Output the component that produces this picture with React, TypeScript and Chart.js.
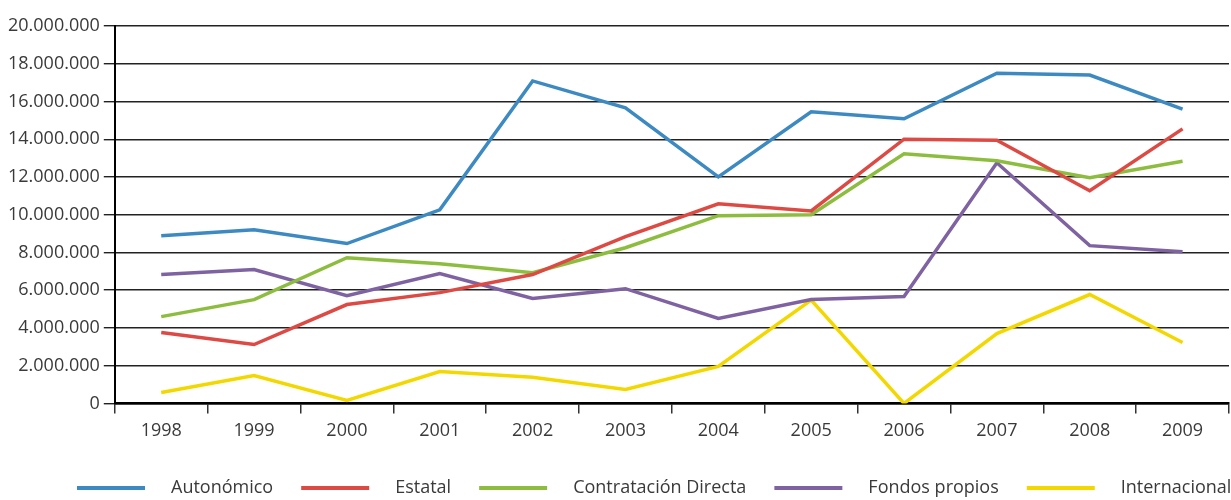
import React, { useEffect, useRef } from 'react';
import { Chart, registerables } from 'chart.js';

Chart.register(...registerables);

const years = ['1998', '1999', '2000', '2001', '2002', '2003', '2004', '2005', '2006', '2007', '2008', '2009'];

const autonomico = [8890000, 9200000, 8470000, 10260000, 17090000, 15660000, 12000000, 15450000, 15080000, 17500000, 17400000, 15600000];
const estatal = [3760000, 3120000, 5240000, 5870000, 6830000, 8840000, 10580000, 10200000, 14000000, 13950000, 11270000, 14550000];
const contratacionDirecta = [4600000, 5500000, 7720000, 7400000, 6930000, 8250000, 9950000, 10000000, 13230000, 12860000, 11960000, 12830000];
const fondosPropios = [6830000, 7090000, 5710000, 6880000, 5560000, 6080000, 4500000, 5500000, 5660000, 12750000, 8360000, 8040000];
const internacional = [580000, 1480000, 160000, 1690000, 1380000, 740000, 1960000, 5480000, 0, 3700000, 5770000, 3230000];

const seriesNames = ['Autonómico', 'Estatal', 'Contratación Directa', 'Fondos propios', 'Internacional'];
const seriesValues = [autonomico, estatal, contratacionDirecta, fondosPropios, internacional];
const seriesColors = ['#3c8ac1', '#dd4a44', '#8dbd3e', '#7f62a1', '#f3d800'];

const yMin = 0;
const yMax = 20000000;
const yStep = 2000000;

const FONT = '"Open Sans", "Noto Sans", sans-serif';
const TEXT_COLOR = '#3a3a3a';

const legendPlugin = {
  id: 'customLegend',
  afterDraw(chart: any) {
    const ctx = chart.ctx;
    ctx.save();
    ctx.font = `18px ${FONT}`;
    ctx.textBaseline = 'middle';
    ctx.textAlign = 'left';
    let x = 77;
    const y = 488;
    chart.data.datasets.forEach((ds: any) => {
      ctx.strokeStyle = ds.borderColor;
      ctx.lineWidth = 4;
      ctx.beginPath();
      ctx.moveTo(x, y);
      ctx.lineTo(x + 68, y);
      ctx.stroke();
      x += 68 + 26;
      ctx.fillStyle = TEXT_COLOR;
      ctx.fillText(ds.label, x, y);
      x += ctx.measureText(ds.label).width + 28;
    });
    ctx.restore();
  },
};

export default function App() {
  const canvasRef = useRef<HTMLCanvasElement | null>(null);

  useEffect(() => {
    if (!canvasRef.current) return;
    const chart = new Chart(canvasRef.current, {
      type: 'line',
      data: {
        labels: years,
        datasets: seriesNames.map((name, i) => ({
          label: name,
          data: seriesValues[i],
          borderColor: seriesColors[i],
          backgroundColor: seriesColors[i],
          borderWidth: 3.5,
          pointRadius: 0,
          pointHoverRadius: 0,
          tension: 0,
          fill: false,
        })),
      },
      options: {
        animation: false,
        responsive: true,
        maintainAspectRatio: false,
        layout: { padding: { left: 4, right: 2, top: 26, bottom: 51 } },
        plugins: {
          legend: { display: false },
          tooltip: { enabled: false },
          title: { display: false },
        },
        scales: {
          x: {
            type: 'category',
            offset: true,
            grid: {
              offset: true,
              drawOnChartArea: true,
              color: (c: any) => (c.index === years.length ? '#333' : 'rgba(0,0,0,0)'),
              tickColor: '#333',
              tickLength: 10,
              lineWidth: 1.5,
            },
            border: { display: true, color: '#000', width: 2.5 },
            ticks: {
              color: TEXT_COLOR,
              font: { family: FONT, size: 18 },
              padding: 7,
              maxRotation: 0,
              autoSkip: false,
            },
          },
          y: {
            min: yMin,
            max: yMax,
            grid: {
              color: '#222',
              lineWidth: 1.4,
              tickColor: '#222',
              tickLength: 11,
            },
            border: { display: true, color: '#000', width: 2 },
            ticks: {
              stepSize: yStep,
              color: TEXT_COLOR,
              font: { family: FONT, size: 18 },
              padding: 4,
              callback: (v: any) => Number(v).toLocaleString('de-DE'),
            },
          },
        },
      },
      plugins: [legendPlugin],
    });
    return () => chart.destroy();
  }, []);

  return (
    <div style={{ position: 'absolute', left: 0, top: 0, width: 1231, height: 500, background: '#fff' }}>
      <canvas ref={canvasRef} />
    </div>
  );
}
